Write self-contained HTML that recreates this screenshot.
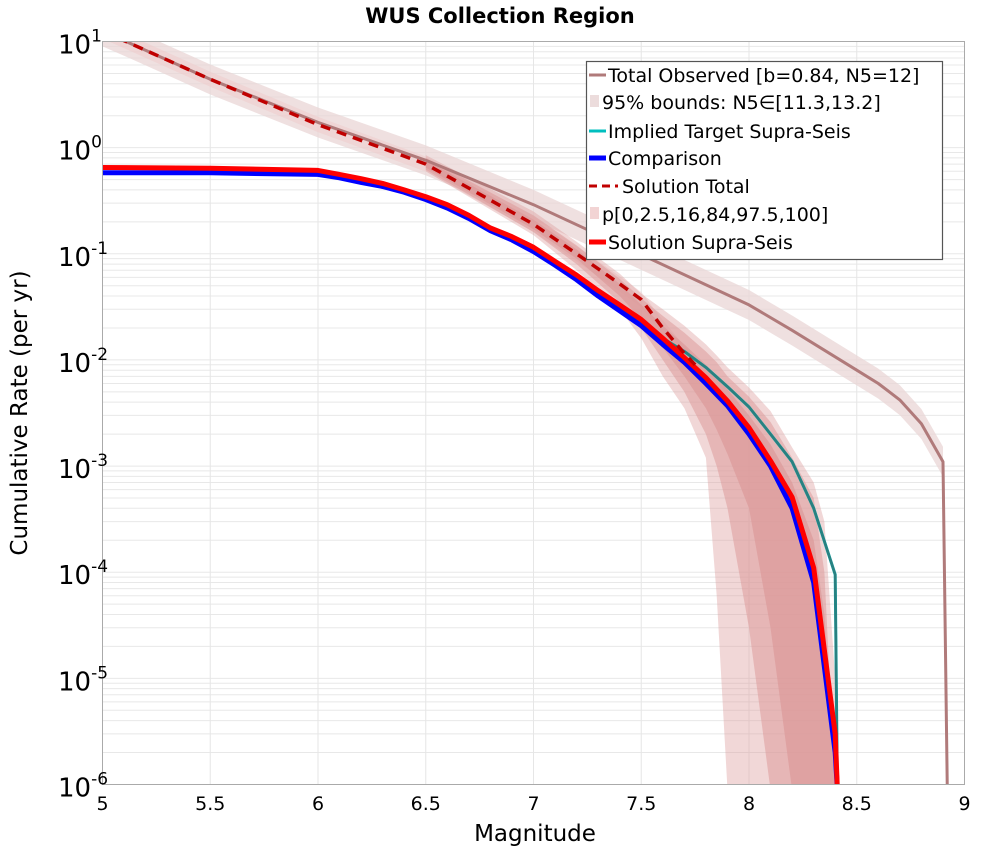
<!DOCTYPE html>
<html><head><meta charset="utf-8">
<style>
body{margin:0;background:#fff;}
svg{display:block;font-family:"DejaVu Sans","Liberation Sans",sans-serif;}
</style></head>
<body>
<svg id="chart" width="1000" height="850" viewBox="0 0 1000 850" xmlns="http://www.w3.org/2000/svg">
<text x="500" y="23" text-anchor="middle" font-size="21" font-weight="bold">WUS Collection Region</text>
<g id="grid"></g>
<g id="bands"></g>
<g id="lines"></g>
<rect x="102.5" y="41.5" width="862" height="743" fill="none" stroke="#aaa" stroke-width="1"/>
<g id="axes"></g>
<text x="535" y="841" text-anchor="middle" font-size="23">Magnitude</text>
<text transform="translate(27,413) rotate(-90)" text-anchor="middle" font-size="23">Cumulative Rate (per yr)</text>
<g>
<rect x="586.5" y="61.5" width="356" height="198" fill="#fff" stroke="#555" stroke-width="1.2"/>
<g font-size="19">
<line x1="589" y1="75" x2="606" y2="75" stroke="#b07a7a" stroke-width="3"/>
<text x="608" y="82">Total Observed [b=0.84, N5=12]</text>
<rect x="590" y="95" width="9" height="12" fill="#ecdcdc"/>
<text x="602" y="109">95% bounds: N5∈[11.3,13.2]</text>
<line x1="589" y1="131" x2="606" y2="131" stroke="#00bfbf" stroke-width="3"/>
<text x="608" y="138">Implied Target Supra-Seis</text>
<line x1="589" y1="158" x2="606" y2="158" stroke="#0000ff" stroke-width="5"/>
<text x="608" y="165">Comparison</text>
<line x1="589" y1="186" x2="618" y2="186" stroke="#c00000" stroke-width="3" stroke-dasharray="8,5"/>
<text x="622" y="193">Solution Total</text>
<rect x="590" y="207" width="9" height="12" fill="#f2d4d4"/>
<text x="602" y="221">p[0,2.5,16,84,97.5,100]</text>
<line x1="589" y1="242" x2="606" y2="242" stroke="#ff0000" stroke-width="5"/>
<text x="608" y="249">Solution Supra-Seis</text>
</g></g>
</svg>
<script>
const NS="http://www.w3.org/2000/svg";
// axis ticks
const xTicks=[5,5.5,6,6.5,7,7.5,8,8.5,9];
const xTickLabels=["5","5.5","6","6.5","7","7.5","8","8.5","9"];
const yDecades=[1,0,-1,-2,-3,-4,-5,-6];
// Total observed
const obsX=[5.0,5.1,5.5,6.0,6.5,7.0,7.5,8.0,8.2,8.5,8.6,8.7,8.8,8.9,8.92];
const obsY=[12.5,10.2,4.4,1.73,0.76,0.29,0.098,0.033,0.019,0.008,0.006,0.0042,0.0025,0.0011,1e-7];
// Solution supra-seis / comparison / target (same x grid)
const magX=[5.0,5.5,6.0,6.1,6.2,6.3,6.4,6.5,6.6,6.7,6.8,6.9,7.0,7.1,7.2,7.3,7.4,7.5,7.6,7.7,7.8,7.9,8.0,8.1,8.2,8.3,8.4,8.41];
const supraY=[0.65,0.64,0.61,0.56,0.51,0.46,0.40,0.345,0.29,0.23,0.175,0.145,0.115,0.085,0.063,0.045,0.033,0.024,0.016,0.0105,0.0068,0.0041,0.0023,0.00112,0.00051,0.00011,3e-6,1e-7];
const compY=[0.58,0.58,0.56,0.52,0.47,0.43,0.38,0.325,0.27,0.215,0.165,0.135,0.105,0.078,0.057,0.04,0.029,0.021,0.014,0.0095,0.006,0.0037,0.002,0.001,0.0004,8e-5,2e-6,1e-7];
const targY=[0.58,0.58,0.56,0.52,0.47,0.43,0.38,0.325,0.27,0.215,0.165,0.135,0.105,0.078,0.057,0.041,0.03,0.022,0.016,0.012,0.0085,0.0056,0.0036,0.002,0.0011,0.0004,0.000095,1e-7];
// Solution total
const totX=[5.0,5.1,5.5,6.0,6.5,7.0,7.2,7.4,7.5,7.6,7.7,7.75];
const totY=[12.5,10.2,4.4,1.65,0.7,0.19,0.1,0.052,0.037,0.02,0.0115,0.009];
// percentile bands (x grid)
const bX=[6.5,7.0,7.2,7.4,7.5,7.6,7.7,7.8,7.85,7.9,8.0,8.1,8.2,8.3,8.35,8.4,8.42];
const p0Lo=[0.6,0.15,0.07,0.03,0.016,0.007,0.0035,0.0012,0.00006,1e-7,1e-7,1e-7,1e-7,1e-7,1e-7,1e-7,1e-7];
const p0Hi=[0.85,0.25,0.13,0.065,0.042,0.03,0.021,0.014,0.011,0.0085,0.0055,0.0033,0.0015,0.0007,0.0003,0.00001,1e-7];
const p25Lo=[0.62,0.16,0.08,0.035,0.02,0.01,0.005,0.002,0.001,0.0004,0.00003,1e-7,1e-7,1e-7,1e-7,1e-7,1e-7];
const p25Hi=[0.8,0.23,0.12,0.058,0.038,0.026,0.018,0.012,0.0095,0.007,0.0045,0.0026,0.0012,0.0005,0.0001,1e-7,1e-7];
const p16Lo=[0.65,0.17,0.09,0.04,0.024,0.013,0.007,0.0035,0.0022,0.0013,0.0004,0.00003,1e-7,1e-7,1e-7,1e-7,1e-7];
const p16Hi=[0.76,0.21,0.11,0.052,0.033,0.021,0.014,0.009,0.007,0.0053,0.003,0.0016,0.0007,0.0002,0.00004,1e-7,1e-7];

const X0=102.5,X1=964.5,Y0=41.5,Y1=784.5;
function sx(m){return X0+(m-5)/4*(X1-X0);}
function sy(v){let l=Math.log10(v);if(l<-6.05)l=-6.05;return Y0+(1-l)/7*(Y1-Y0);}
function mk(t,a,p){const e=document.createElementNS(NS,t);for(const k in a)e.setAttribute(k,a[k]);(p||document.getElementById('lines')).appendChild(e);return e;}
function pts(xs,ys){return xs.map((x,i)=>sx(x).toFixed(1)+","+sy(ys[i]).toFixed(1)).join(" ");}
function bandPts(xs,lo,hi){return pts(xs,hi)+" "+pts(xs.slice().reverse(),lo.slice().reverse());}
const grid=document.getElementById('grid'),axes=document.getElementById('axes'),bands=document.getElementById('bands');
// minor grid
for(let d=-6;d<1;d++){for(let k=1;k<10;k++){const y=sy(k*Math.pow(10,d));const g=mk('line',{x1:X0,x2:X1,y1:y,y2:y,stroke:'#e8e8e8','stroke-width':1},grid);}}
xTicks.forEach((t,i)=>{const x=sx(t);const g=mk('line',{x1:x,x2:x,y1:Y0,y2:Y1,stroke:'#e6e6e6','stroke-width':1},grid);
const tl=mk('text',{x:x,y:810,'text-anchor':'middle','font-size':19},axes);tl.textContent=xTickLabels[i];});
yDecades.forEach(d=>{const y=sy(Math.pow(10,d));const t=mk('text',{x:58,y:y+12,'text-anchor':'start','font-size':26},axes);
t.innerHTML='10<tspan dy="-12" font-size="17">'+d+'</tspan>';});
// observed band
const ob=mk('polygon',{points:bandPts(obsX.slice(0,-1),obsY.slice(0,-1).map(v=>v*0.72),obsY.slice(0,-1).map(v=>v*1.38)),fill:'#e9d6d6','fill-opacity':0.75},bands);

const tb=mk('polygon',{points:bandPts(totX,totY.map(v=>v*0.85),totY.map(v=>v*1.18)),fill:'#efcaca','fill-opacity':0.5},bands);

[[p0Lo,p0Hi,0.4,'band-p0-100'],[p25Lo,p25Hi,0.55,'band-p2.5-97.5'],[p16Lo,p16Hi,0.7,'band-p16-84']].forEach(b=>{
const e=mk('polygon',{points:bandPts(bX,b[0],b[1]),fill:'#dc9a9a','fill-opacity':b[2]},bands);});
const cl=document.createElementNS(NS,'clipPath');cl.id='clip';const cr=document.createElementNS(NS,'rect');cr.setAttribute('x',X0);cr.setAttribute('y',Y0);cr.setAttribute('width',X1-X0);cr.setAttribute('height',Y1-Y0);cl.appendChild(cr);document.getElementById('chart').appendChild(cl);
bands.setAttribute('clip-path','url(#clip)');document.getElementById('lines').setAttribute('clip-path','url(#clip)');
function line(xs,ys,c,w,name,dash){const e=mk('polyline',{points:pts(xs,ys),fill:'none',stroke:c,'stroke-width':w,'stroke-linejoin':'round'});if(dash)e.setAttribute('stroke-dasharray',dash);}
line(obsX,obsY,'#b07a7a',3,'total-observed-line');
line(magX,targY,'#00a8a8',3,'implied-target-line');
line(magX,targY.map((v,i)=>v),'#2a8080',2.5,'implied-target-line-inner');
line(magX,compY,'#0000ff',5,'comparison-line');
line(magX,supraY,'#ff0000',5,'solution-supra-line');
line(totX,totY,'#c00000',3.5,'solution-total-line','10,7');
</script>
</body></html>
